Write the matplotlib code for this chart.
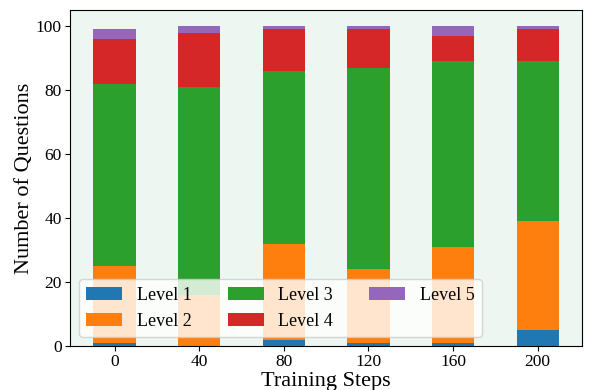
import matplotlib
matplotlib.use("Agg")
import matplotlib.pyplot as plt
import numpy as np

steps = [0, 40, 80, 120, 160, 200]
level1 = [1, 0, 2, 1, 1, 5]
level2 = [24, 16, 30, 23, 30, 34]
level3 = [57, 65, 54, 63, 58, 50]
level4 = [14, 17, 13, 12, 8, 10]
level5 = [3, 2, 1, 1, 3, 1]
labels = ["Level 1", "Level 2", "Level 3", "Level 4", "Level 5"]
colors = ["#1f77b4", "#ff7f0e", "#2ca02c", "#d62728", "#9467bd"]

plt.rcParams['font.family'] = ['Liberation Serif', 'DejaVu Serif']

fig = plt.figure(figsize=(5.94, 3.9), dpi=100)
ax = fig.add_axes([0.118, 0.113, 0.862, 0.861])
ax.set_facecolor("#edf6f0")

bottom = np.zeros(len(steps))
for vals, lab, c in zip([level1, level2, level3, level4, level5], labels, colors):
    ax.bar(steps, vals, width=20, bottom=bottom, color=c, label=lab)
    bottom += np.array(vals)

ax.set_xticks(steps)
ax.set_ylim(0, 105)
ax.tick_params(labelsize=12.5, pad=2.5)
ax.set_xlabel("Training Steps", fontsize=16, labelpad=1)
ax.set_ylabel("Number of Questions", fontsize=16, labelpad=1.5)
ax.legend(ncol=3, fontsize=13, loc="lower left", bbox_to_anchor=(0.0, 0.0),
          framealpha=0.8, borderaxespad=0.5, columnspacing=2.0)

fig.savefig("out.png", dpi=100)
